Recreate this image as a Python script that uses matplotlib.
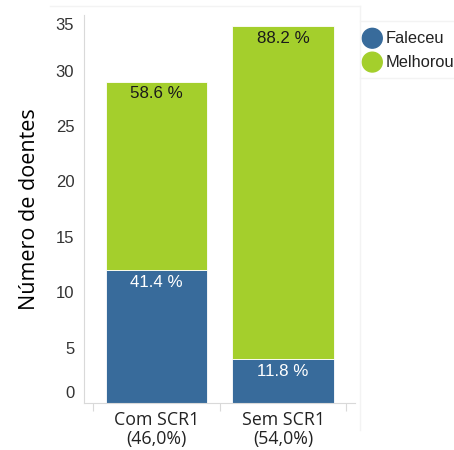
import matplotlib.pyplot as plt
import matplotlib.transforms as mtransforms
from matplotlib.lines import Line2D

# Doentes por grupo e desfecho
grupos = ['Com SCR1', 'Sem SCR1']
fracao_grupo = ['(46,0%)', '(54,0%)']
faleceu = [12, 4]
melhorou = [17, 30]

cor_faleceu = '#386b9b'
cor_melhorou = '#a4cf2c'
cinza = '#d9d9d9'

fig = plt.figure(figsize=(4.54, 4.50), dpi=100)
ax = fig.add_axes([0.185, 0.1044, 0.597, 0.862])

x = list(range(len(grupos)))
ax.bar(x, faleceu, width=0.8, color=cor_faleceu, edgecolor='white', linewidth=0.6, zorder=2)
ax.bar(x, melhorou, width=0.8, bottom=faleceu, color=cor_melhorou, edgecolor='white',
       linewidth=0.6, zorder=2)

# Percentagens dentro de cada segmento
for i in x:
    total = faleceu[i] + melhorou[i]
    ax.annotate(f'{100 * faleceu[i] / total:.1f} %', (i, faleceu[i]), xytext=(0, -3.5),
                textcoords='offset points', ha='center', va='top', fontsize=12.2,
                color='white', family='Liberation Sans')
    ax.annotate(f'{100 * melhorou[i] / total:.1f} %', (i, total), xytext=(0, -3.5),
                textcoords='offset points', ha='center', va='top', fontsize=12.2,
                color='#1a1a1a', family='Liberation Sans')

ax.set_xlim(-0.573, 1.569)
ax.set_ylim(0, 35)

for s in ['top', 'right']:
    ax.spines[s].set_visible(False)
ax.spines['left'].set_color(cinza)
ax.spines['bottom'].set_color(cinza)

ax.set_yticks(range(0, 36, 5))
ax.tick_params(axis='y', length=0, pad=7, labelsize=12, labelcolor='#333333')
for lab in ax.get_yticklabels():
    lab.set_family('Liberation Sans')
# primeiro e último rótulo puxados para dentro do eixo
ylabs = ax.get_yticklabels()
ylabs[0].set_transform(ylabs[0].get_transform() +
                       mtransforms.ScaledTranslation(0, 11 / 100, fig.dpi_scale_trans))
ylabs[-1].set_transform(ylabs[-1].get_transform() +
                        mtransforms.ScaledTranslation(0, -9 / 100, fig.dpi_scale_trans))

ax.set_xticks([-0.5, 0.5, 1.5])
ax.set_xticklabels([])
ax.tick_params(axis='x', length=6, color=cinza)

# Rótulos das categorias em duas linhas
trans_cat = mtransforms.blended_transform_factory(ax.transData, fig.transFigure)
for i in x:
    ax.text(i, 1 - 420 / 450, grupos[i], ha='center', va='center', fontsize=12.8,
            color='#222222', family='Open Sans', transform=trans_cat, clip_on=False)
    ax.text(i, 1 - 439 / 450, fracao_grupo[i], ha='center', va='center', fontsize=12.8,
            color='#222222', family='Open Sans', transform=trans_cat, clip_on=False)

ax.set_ylabel('Número de doentes', fontsize=15.5, family='Open Sans', labelpad=11)

# Bordas ténues dos painéis
borda = '#f3f3f3'
fig.add_artist(Line2D([50 / 454, 360 / 454], [1 - 6 / 450] * 2, color=borda, lw=1,
                      transform=fig.transFigure))
fig.add_artist(Line2D([360 / 454] * 2, [1 - 6 / 450, 1 - 430 / 450], color=borda, lw=1,
                      transform=fig.transFigure))
fig.add_artist(Line2D([360 / 454, 1], [1 - 21 / 450] * 2, color=borda, lw=1,
                      transform=fig.transFigure))
fig.add_artist(Line2D([360 / 454, 1], [1 - 78 / 450] * 2, color=borda, lw=1,
                      transform=fig.transFigure))

# Legenda com círculos
leg_y = [0.915, 0.862]
for nome, cor, yy in zip(['Faleceu', 'Melhorou'], [cor_faleceu, cor_melhorou], leg_y):
    fig.patches.append(plt.Circle((0.820, yy), 0.022, transform=fig.transFigure,
                                  color=cor, figure=fig))
    fig.text(0.850, yy, nome, va='center', ha='left', fontsize=11.8,
             family='Liberation Sans', color='#222222')

plt.savefig('out.png', dpi=100)
